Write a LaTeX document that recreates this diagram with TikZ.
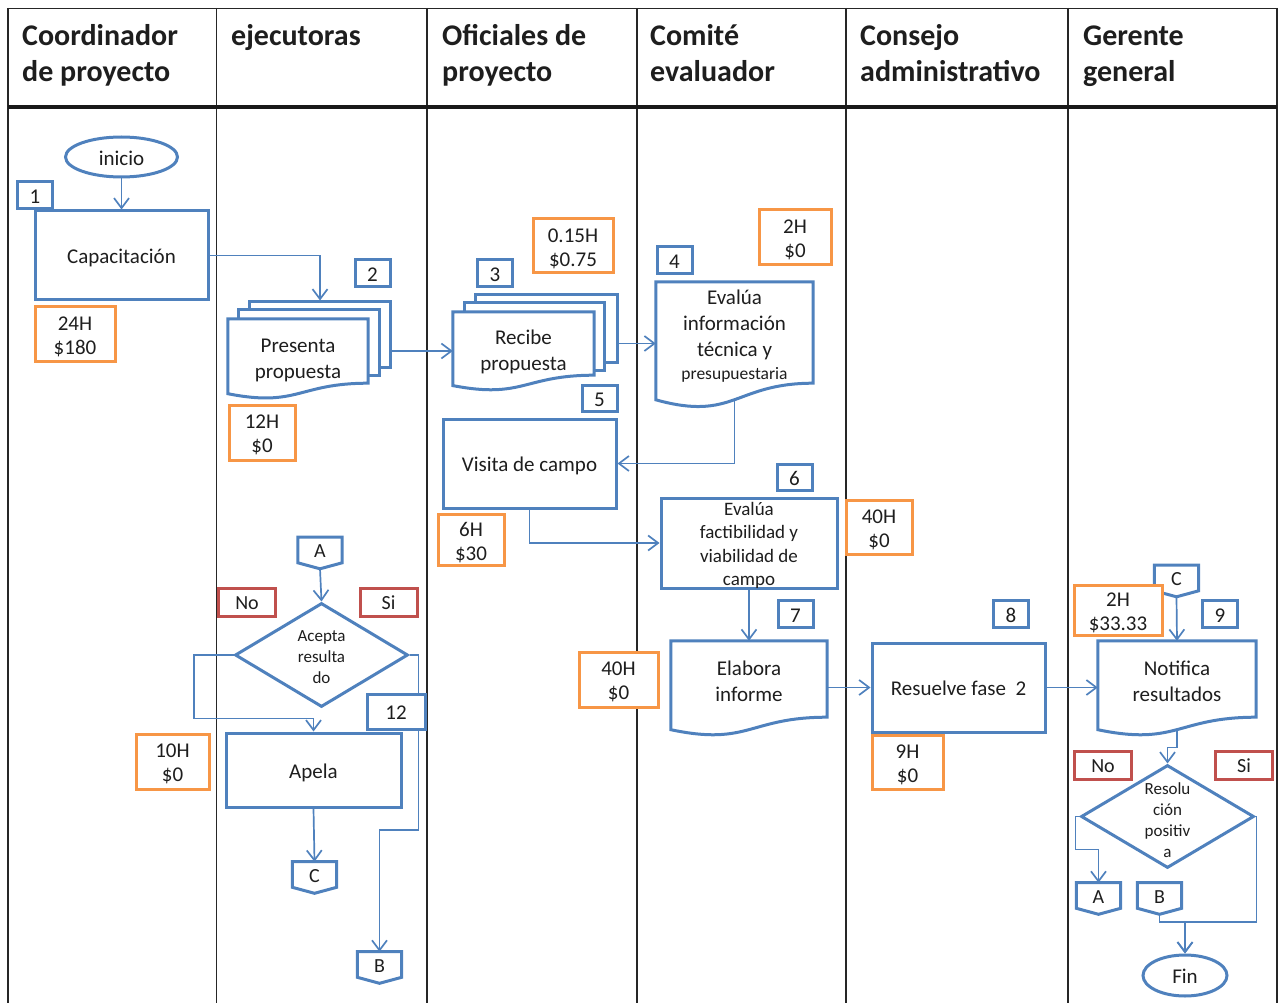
\documentclass[tikz,border=0pt]{standalone}
\usepackage{fontspec}
\setmainfont{Carlito}
\usetikzlibrary{arrows.meta,shapes.geometric,calc}

\definecolor{flowblue}{HTML}{4F81BD}
\definecolor{costorange}{HTML}{F79646}
\definecolor{answerred}{HTML}{C0504D}
\definecolor{ink}{HTML}{1E1E1E}

\newcommand{\fs}[2]{\fontsize{#1}{#2}\selectfont}
% fixed top and bottom struts so that text sits at the same height in every box
\newcommand{\topstrut}{\rule{0pt}{1.02em}}
\newcommand{\botstrut}{\rule[-0.24em]{0pt}{0.24em}}
\newcommand{\ml}[1]{\topstrut#1\botstrut}
% document outline (wavy bottom) around an empty geometry node
\newcommand{\docoutline}[3]{%
  \draw[flowblue, line width=3pt, fill=white]
    (#1.north west) -- (#1.north east) -- (#1.south east)
    .. controls (#1.south) and ($(#1.south)+(0,#3)$) .. ($(#1.south west)+(0,#2)$) -- cycle;}
% off-page connector (pentagon pointing down)
\newcommand{\offpage}[1]{%
  \draw[flowblue, line width=3pt]
    (#1.north west) -- (#1.north east) -- (#1.south east)
    -- ($(#1.south)+(0,6)$) -- (#1.south west) -- cycle;}

\begin{document}
\begin{tikzpicture}[x=1pt,y=-1pt,
  every node/.style={text=ink, inner sep=0pt, font=\fs{21}{26}},
  vfix/.style={execute at begin node=\topstrut, execute at end node=\botstrut},
  proc/.style={vfix, draw=flowblue, line width=3pt, fill=white, align=center},
  docgeo/.style={},
  txt/.style={vfix, align=center},
  stepnum/.style={vfix, draw=flowblue, line width=3pt, fill=white, minimum height=26pt, minimum width=35pt},
  cost/.style={vfix, draw=costorange, line width=3pt, fill=white, align=center, font=\fs{21}{24}},
  answer/.style={vfix, draw=answerred, line width=3pt, fill=white, minimum width=57pt, minimum height=28pt, font=\fs{20}{24}},
  term/.style={vfix, draw=flowblue, line width=3pt, ellipse, fill=white},
  decision/.style={draw=flowblue, line width=3pt, diamond, fill=white},
  offpg/.style={vfix, minimum width=44pt, minimum height=25pt, font=\fs{20}{24}},
  conn/.style={draw=flowblue, line width=1.7pt, -{Straight Barb[length=10pt,width=15pt]}},
  lane/.style={draw=black!85, line width=1.8pt},
  head/.style={anchor=north west, align=left, font=\bfseries\fs{30}{36}},
]
\useasboundingbox (0,0) rectangle (1278,1003);

% ---------- swimlane table ----------
\draw[lane] (8,8.5) -- (1277,8.5);
\foreach \x in {8,216.5,427,637,846,1068,1277}
  \draw[lane] (\x,8) -- (\x,1003);
\draw[black!90, line width=4pt] (8,107) -- (1277,107);

\node[head] (h1) at (22,19.8) {\strut Coordinador\\de proyecto};
\node[head] (h2) at (231,19.8) {\strut ejecutoras};
\node[head] (h3) at (442,19.8) {\strut Oficiales de\\proyecto};
\node[head] (h4) at (650,19.8) {\strut Comité\\evaluador};
\node[head] (h5) at (860,19.8) {\strut Consejo\\administrativo};
\node[head] (h6) at (1083,19.8) {\strut Gerente\\general};

% ---------- shapes ----------
\node[term, minimum width=112pt, minimum height=40pt] (start) at (121.5,157) {inicio};
\node[proc, minimum width=173pt, minimum height=89pt] (cap) at (121.5,255.5) {Capacitación};

% Presenta propuesta (multi-document)
\node[proc, minimum width=141pt, minimum height=65pt] (pb) at (320,334.5) {};
\node[proc, minimum width=141pt, minimum height=65pt] (pm) at (308.5,342.5) {};
\node[docgeo, minimum width=140pt, minimum height=64pt] (pf) at (298,351) {};
\docoutline{pf}{10.5}{24.4}
\node[txt] (tpf) at (298,357.5) {\ml{Presenta\\propuesta}};

% Recibe propuesta (multi-document)
\node[proc, minimum width=142pt, minimum height=67pt] (rb) at (546,328.5) {};
\node[proc, minimum width=140pt, minimum height=67pt] (rm) at (534,336.5) {};
\node[docgeo, minimum width=141pt, minimum height=63pt] (rf) at (523.5,343.5) {};
\docoutline{rf}{10.4}{24}
\node[txt] (trf) at (523.5,349.5) {\ml{Recibe\\propuesta}};

% Evalua informacion
\node[docgeo, minimum width=157pt, minimum height=101pt] (ev) at (734.5,332.5) {};
\docoutline{ev}{16.6}{38.5}
\node[txt] (tev) at (734.5,334) {\ml{Evalúa\\información\\técnica y\\[-3pt]{\fs{17.5}{22}presupuestaria}}};

\node[proc, minimum width=173pt, minimum height=89pt] (vis) at (529.5,463.5) {Visita de campo};

% Evalua factibilidad: the text runs onto the bottom edge, so it is set apart
\node[proc, minimum width=176pt, minimum height=90pt] (fac) at (749,543) {};
\node[txt, font=\fs{19}{23.3}] (tfac) at (749,543) {\ml{Evalúa\\factibilidad y\\viabilidad de\\campo}};

\node[docgeo, minimum width=156pt, minimum height=76pt] (el) at (749,679) {};
\docoutline{el}{12.5}{29}
\node[txt] (tel) at (749,680) {\ml{Elabora\\informe}};

\node[proc, minimum width=173pt, minimum height=89pt] (rs) at (958.5,687.5) {Resuelve fase\ \ 2};

\node[docgeo, minimum width=158pt, minimum height=76pt] (nf) at (1177,679) {};
\docoutline{nf}{12.5}{29}
\node[txt] (tnf) at (1177,680) {\ml{Notifica\\resultados}};

% decision Acepta resultado
\node[decision, minimum width=173pt, minimum height=104pt] (d1) at (321.5,655) {};
\node[txt, font=\fs{17}{21}] (td1) at (321.5,656) {\ml{Acepta\\resulta\\do}};
\node[proc, minimum width=175pt, minimum height=74pt] (ap) at (313.5,770) {Apela};

% decision Resolucion positiva
\node[decision, minimum width=173pt, minimum height=103pt] (d2) at (1167.5,816.5) {};
\node[txt, font=\fs{17}{21}] (td2) at (1167.5,819) {\ml{Resolu\\ción\\positiv\\a}};

\node[term, minimum width=84pt, minimum height=41pt] (fin) at (1185,975.5) {Fin};

% off-page connectors
\node[offpg] (A1) at (320,550) {A};      \offpage{A1}
\node[offpg] (C1) at (314.5,874.5) {C};  \offpage{C1}
\node[offpg] (B1) at (379.5,964.5) {B};  \offpage{B1}
\node[offpg] (C2) at (1176.5,578) {C};   \offpage{C2}
\node[offpg] (A2) at (1098.5,895.5) {A}; \offpage{A2}
\node[offpg] (B2) at (1159.5,895.5) {B}; \offpage{B2}

% ---------- connectors ----------
\coordinate (evlow) at ($(ev.south)+(0,16.5)$);
\coordinate (nflow) at ($(nf.south)+(0,12.4)$);
\draw[conn] (start.south) -- (cap.north);
\draw[conn] (cap.east) -| (pb.north);
\draw[conn] (pb.east |- pf.center) -- (rf.west |- pf.center);
\draw[conn] (rb.east |- rf.center) -- (ev.west |- rf.center);
\draw[conn] (evlow) |- (vis.east);
\draw[conn] (vis.south) |- (fac.west);
\draw[conn] (fac.south) -- (el.north);
\draw[conn] (el.east |- rs.west) -- (rs.west);
\draw[conn] (rs.east) -- (nf.west |- rs.east);
\draw[conn] ($(C2.south)+(0,6)$) -- (nf.north);
\draw[conn] (nflow) -- ++(0,18) -| (d2.north);
\draw[conn] (d2.west) -- ++(-4,0) -- ++(0,33) -| (A2.north);
\draw[conn] ($(B2.south)+(0,6)$) -- ++(0,8) -| (fin.north);
\draw[conn] (d2.east) -- ++(1,0) -- ++(0,105.5) -| (fin.north);
\draw[conn] ($(A1.south)+(0,6)$) -- (d1.north);
\draw[conn] (d1.west) -- ++(-39.5,0) |- ($(ap.north)+(0,-13)$) -- (ap.north);
\draw[conn] (d1.east) -- ++(9,0) -- ++(0,175) -| (B1.north);
\draw[conn] (ap.south) -- (C1.north);

% ---------- step numbers ----------
\node[stepnum] (n1) at (35,195) {1};
\node[stepnum] (n2) at (372.5,273) {2};
\node[stepnum] (n3) at (495,273) {3};
\node[stepnum] (n4) at (674.5,260) {4};
\node[stepnum] (n5) at (599.5,398.5) {5};
\node[stepnum] (n6) at (794.5,477.5) {6};
\node[stepnum] (n7) at (795.5,614) {7};
\node[stepnum] (n8) at (1011,614) {8};
\node[stepnum] (n9) at (1220,614) {9};
\node[stepnum, minimum width=58pt, minimum height=35pt] (n12) at (396,711.5) {12};

% ---------- time and cost ----------
\node[cost, minimum width=80pt, minimum height=54pt] (k1) at (75,334) {\ml{24H\\\$180}};
\node[cost, minimum width=66pt, minimum height=55pt] (k2) at (262,432.5) {\ml{12H\\\$0}};
\node[cost, minimum width=80pt, minimum height=54pt] (k3) at (573,246) {\ml{0.15H\\\$0.75}};
\node[cost, minimum width=72pt, minimum height=55pt] (k4) at (795,237.5) {\ml{2H\\\$0}};
\node[cost, minimum width=66pt, minimum height=50pt] (k5) at (471,540) {\ml{6H\\\$30}};
\node[cost, minimum width=66pt, minimum height=54pt] (k6) at (879,527) {\ml{40H\\\$0}};
\node[cost, minimum width=79pt, minimum height=55pt] (k7) at (618.5,679.5) {\ml{40H\\\$0}};
\node[cost, minimum width=71pt, minimum height=54pt] (k8) at (907.5,762) {\ml{9H\\\$0}};
\node[cost, minimum width=88pt, minimum height=49pt] (k9) at (1118,610.5) {\ml{2H\\\$33.33}};
\node[cost, minimum width=73pt, minimum height=55pt] (k12) at (172.5,761.5) {\ml{10H\\\$0}};

% ---------- decision answers ----------
\node[answer] (no1) at (247,602) {No};
\node[answer] (si1) at (388.5,602) {Si};
\node[answer] (no2) at (1103,765) {No};
\node[answer] (si2) at (1244,765) {Si};
\end{tikzpicture}
\end{document}
